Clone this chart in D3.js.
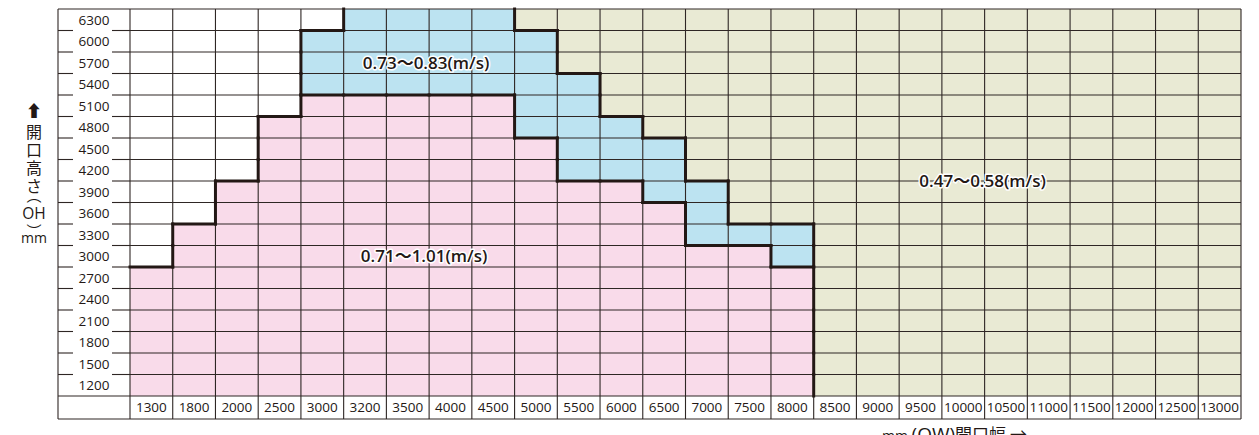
<!DOCTYPE html>
<html lang="ja">
<head>
<meta charset="utf-8">
<title>開口寸法と開閉速度</title>
<script src="https://cdn.jsdelivr.net/npm/d3@7"></script>
<style>
  body { margin: 0; background: #fff; }
  svg { display: block; }
  text { font-family: "Open Sans", "Noto Sans", "Noto Sans CJK JP", sans-serif; fill: #231815; }
</style>
</head>
<body>
<script>

// 開口幅 (OW) と 開口高さ (OH)
var widths = [1300, 1800, 2000, 2500, 3000, 3200, 3500, 4000, 4500, 5000, 5500, 6000, 6500,
              7000, 7500, 8000, 8500, 9000, 9500, 10000, 10500, 11000, 11500, 12000, 12500, 13000];
var heights = [6300, 6000, 5700, 5400, 5100, 4800, 4500, 4200, 3900, 3600, 3300, 3000, 2700,
               2400, 2100, 1800, 1500, 1200];

// 0.71〜1.01(m/s) の上限高さ（幅ごと）
var pinkMax = [2700, 3300, 3900, 4800, 5100, 5100, 5100, 5100, 5100, 4500, 3900, 3900, 3600,
               3000, 3000, 2700, 0, 0, 0, 0, 0, 0, 0, 0, 0, 0];
// 0.73〜0.83(m/s) の上限高さ
var blueMax = [0, 0, 0, 0, 6000, 6300, 6300, 6300, 6300, 6000, 5400, 4800, 4500,
               3900, 3300, 3300, 0, 0, 0, 0, 0, 0, 0, 0, 0, 0];
// 0.47〜0.58(m/s) はこの幅以上の残り
var beigeFrom = 5000;

var zoneLabels = ["0.71〜1.01(m/s)", "0.73〜0.83(m/s)", "0.47〜0.58(m/s)"];
var zoneColors = ["#f9dbea", "#bce3f1", "#e9ead4"];

var width = 1259;
var height = 435;

var svg = d3.select("body").append("svg")
    .attr("width", width)
    .attr("height", height);

var x = d3.scaleBand().domain(widths).range([130, 1241]);
var y = d3.scaleBand().domain(heights).range([9, 396]);
var left = 58, labelBottom = 419;
var lineColor = "#2e2624";

function zone(ci, h) {
    if (h <= pinkMax[ci]) return 0;
    if (h <= blueMax[ci]) return 1;
    if (widths[ci] >= beigeFrom) return 2;
    return -1;
}

var cells = [];
widths.forEach(function(w, ci) {
    heights.forEach(function(h, ri) {
        cells.push({w: w, h: h, ci: ci, ri: ri, z: zone(ci, h)});
    });
});

// cells
svg.append("g").selectAll("rect")
    .data(cells)
    .enter()
    .append("rect")
    .attr("x", function(d) { return x(d.w); })
    .attr("y", function(d) { return y(d.h); })
    .attr("width", x.bandwidth())
    .attr("height", y.bandwidth())
    .attr("fill", function(d) { return d.z < 0 ? "#fff" : zoneColors[d.z]; });

var grid = svg.append("g")
    .attr("stroke", lineColor)
    .attr("stroke-width", 1.1);

// vertical lines of grid + bottom label row
widths.forEach(function(w) {
    grid.append("line")
        .attr("x1", x(w)).attr("x2", x(w))
        .attr("y1", 9).attr("y2", labelBottom);
});
grid.append("line")
    .attr("x1", 1241).attr("x2", 1241).attr("y1", 9).attr("y2", labelBottom);
grid.append("line")
    .attr("x1", left).attr("x2", left).attr("y1", 9).attr("y2", labelBottom);

// horizontal lines (label column has gaps round the numbers)
heights.forEach(function(h, i) {
    var yy = y(h);
    if (i == 0) {
        grid.append("line").attr("x1", left).attr("x2", 1241).attr("y1", yy).attr("y2", yy);
    } else {
        grid.append("line").attr("x1", 130).attr("x2", 1241).attr("y1", yy).attr("y2", yy);
        grid.append("line").attr("x1", left).attr("x2", 73).attr("y1", yy).attr("y2", yy);
        grid.append("line").attr("x1", 112).attr("x2", 130).attr("y1", yy).attr("y2", yy);
    }
});
grid.append("line").attr("x1", left).attr("x2", 1241).attr("y1", 396).attr("y2", 396);
grid.append("line").attr("x1", left).attr("x2", 1241).attr("y1", labelBottom).attr("y2", labelBottom);

// thick borders between zones
var edges = [];
cells.forEach(function(d) {
    var cx = x(d.w), cy = y(d.h);
    if (d.ci + 1 < widths.length) {
        var r = zone(d.ci + 1, d.h);
        if (r != d.z) edges.push([cx + x.bandwidth(), cy, cx + x.bandwidth(), cy + y.bandwidth()]);
    }
    if (d.ri + 1 < heights.length) {
        var b = zone(d.ci, heights[d.ri + 1]);
        if (b != d.z) edges.push([cx, cy + y.bandwidth(), cx + x.bandwidth(), cy + y.bandwidth()]);
    }
});
svg.append("g").selectAll("line")
    .data(edges)
    .enter()
    .append("line")
    .attr("x1", function(d) { return d[0]; })
    .attr("y1", function(d) { return d[1]; })
    .attr("x2", function(d) { return d[2]; })
    .attr("y2", function(d) { return d[3]; })
    .attr("stroke", "#231815")
    .attr("stroke-width", 3)
    .attr("stroke-linecap", "square");

// tick labels
svg.append("g").selectAll("text")
    .data(heights)
    .enter()
    .append("text")
    .attr("x", 94)
    .attr("y", function(h) { return y(h) + y.bandwidth() / 2; })
    .attr("dy", "0.36em")
    .attr("text-anchor", "middle")
    .attr("font-size", 13.5)
    .text(function(h) { return h; });

svg.append("g").selectAll("text")
    .data(widths)
    .enter()
    .append("text")
    .attr("x", function(w) { return x(w) + x.bandwidth() / 2; })
    .attr("y", (396 + labelBottom) / 2)
    .attr("dy", "0.36em")
    .attr("text-anchor", "middle")
    .attr("font-size", 13.5)
    .text(function(w) { return w; });

// zone labels
var zonePos = [
    [x(4000) - 5, y(3000) + y.bandwidth() / 2],
    [x(4000) - 3, y(5700) + y.bandwidth() / 2],
    [x(10500) - 2, y(3900)]
];
svg.append("g").selectAll("text")
    .data(zoneLabels)
    .enter()
    .append("text")
    .attr("x", function(d, i) { return zonePos[i][0]; })
    .attr("y", function(d, i) { return zonePos[i][1]; })
    .attr("dy", "0.36em")
    .attr("text-anchor", "middle")
    .attr("font-size", 17)
    .attr("font-weight", 600)
    .attr("stroke", "#fff")
    .attr("stroke-width", 3)
    .attr("stroke-linejoin", "round")
    .attr("paint-order", "stroke")
    .text(function(d) { return d; });

// y axis title (vertical)
var yt = svg.append("g")
    .attr("font-family", "'Noto Sans CJK JP', sans-serif")
    .attr("text-anchor", "middle");
yt.append("text").attr("x", 34).attr("y", 117)
    .attr("font-size", 16.5).attr("font-weight", 900).text("⬆");
["開", "口", "高", "さ"].forEach(function(c, i) {
    yt.append("text").attr("x", 34).attr("y", 138 + i * 18)
        .attr("font-size", 16).text(c);
});
// vertical-form parens sit low / high in their em box
yt.append("text").attr("x", 34).attr("y", 201).attr("font-size", 15).text("︵");
yt.append("text").attr("x", 34).attr("y", 219)
    .attr("font-family", "'Open Sans', sans-serif").attr("font-size", 15.5).text("OH");
yt.append("text").attr("x", 34).attr("y", 237).attr("font-size", 15).text("︶");
yt.append("text").attr("x", 34).attr("y", 243)
    .attr("font-family", "'Open Sans', sans-serif").attr("font-size", 14).text("mm");

// x axis title
var xt = svg.append("text")
    .attr("x", 882)
    .attr("y", 441)
    .attr("font-size", 17)
    .attr("font-family", "'Open Sans', 'Noto Sans CJK JP', sans-serif");
xt.append("tspan").attr("font-size", 14).text("mm ");
xt.append("tspan").attr("font-size", 19).text("(OW)");
xt.append("tspan").attr("font-family", "'Noto Sans CJK JP', sans-serif").text("開口幅 →");

</script>
</body>
</html>
